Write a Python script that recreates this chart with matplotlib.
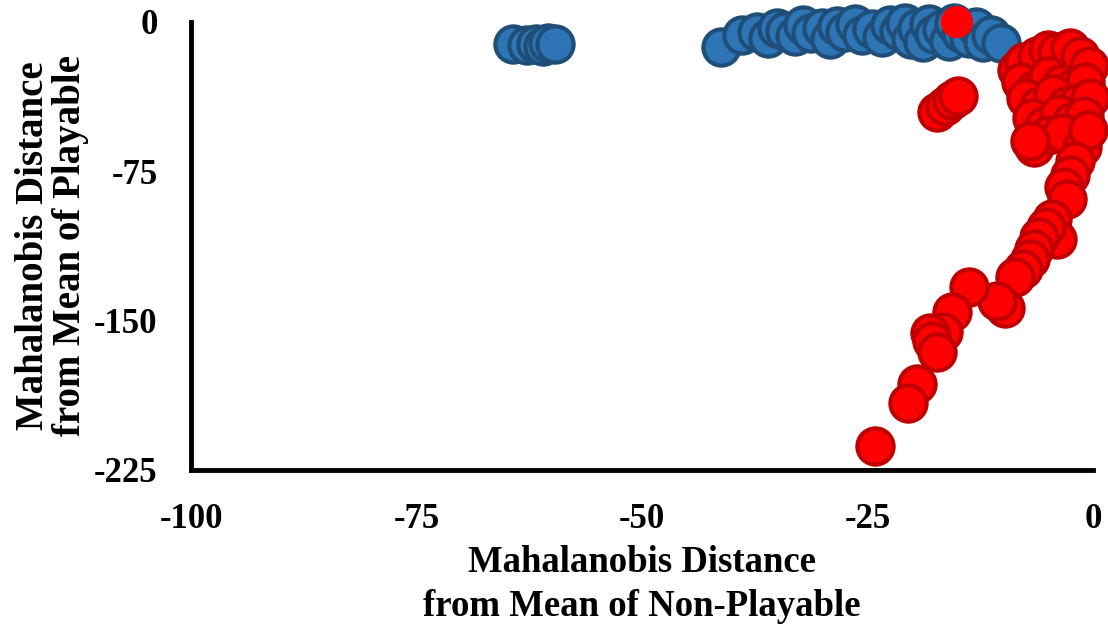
import matplotlib
matplotlib.use("Agg")
import matplotlib.pyplot as plt

# Playable samples: distance from non-playable mean (x) vs. from playable mean (y)
playable_x = [-64.3, -62.8, -61.8, -61.0, -60.4, -59.6,
              -41.2, -38.9, -37.3, -36.0, -35.0, -34.2, -33.0, -32.2, -31.3,
              -30.0, -29.2, -28.4, -27.5, -26.4, -25.6, -24.5, -23.4, -22.5,
              -21.5, -20.8, -20.2, -19.5, -18.9, -18.2, -17.6, -16.8, -16.0,
              -15.4, -14.6, -13.8, -13.0, -12.2, -11.3, -10.2]
playable_y = [-11.0, -11.8, -11.0, -12.0, -10.5, -11.2,
              -12.8, -6.5, -5.0, -8.0, -3.0, -4.5, -7.0, -1.5, -5.5,
              -3.0, -8.5, -2.0, -5.0, -1.0, -6.5, -3.5, -7.5, -1.5,
              -4.5, -0.5, -8.5, -3.0, -10.0, -1.0, -6.0, -3.5, -9.5,
              -0.5, -5.5, -8.0, -2.5, -10.0, -6.5, -10.5]

# Non-playable samples
nonplay_x = [-8.4, -7.6, -6.2, -5.0, -4.0, -2.6, -1.4, -0.4,
             -8.0, -6.6, -5.0, -3.6, -2.2, -0.9,
             -7.4, -6.0, -4.4, -3.0, -1.6, -0.3,
             -6.8, -5.4, -3.8, -2.4, -1.0,
             -6.6, -5.0, -3.4, -1.2, -0.6,
             -7.0, -2.0, -2.5, -3.2, -2.9,
             -17.3, -16.4, -15.6, -15.0,
             -4.5, -4.0, -5.2, -6.0, -6.6, -7.0, -7.8, -8.6, -9.8, -10.6,
             -13.8, -15.6, -16.6, -18.1, -17.8, -17.3, -19.5, -20.5, -24.2]
nonplay_y = [-24.0, -20.0, -17.0, -14.0, -15.0, -13.0, -17.0, -22.0,
             -30.0, -34.0, -27.0, -31.0, -33.0, -30.0,
             -38.0, -42.0, -36.0, -42.0, -40.0, -38.0,
             -48.0, -52.0, -46.0, -50.0, -47.0,
             -62.6, -57.0, -56.0, -62.6, -54.0,
             -60.0, -70.0, -76.8, -83.0, -89.0,
             -45.0, -42.0, -39.0, -37.0,
             -99.0, -109.0, -103.0, -108.0, -114.0, -119.0, -124.0, -128.0, -143.5, -140.0,
             -133.0, -145.5, -155.5, -156.0, -160.0, -165.6, -182.0, -191.2, -213.2]

# Highlighted non-playable sample
highlight_x = [-15.1]
highlight_y = [0.0]

x_ticks = [-100, -75, -50, -25, 0]
y_ticks = [-225, -150, -75, 0]

font = "Liberation Serif"

fig = plt.figure(figsize=(11.08, 6.28), dpi=100)
ax = fig.add_axes([0.1724, 0.2516, 0.8141, 0.7134])

ax.scatter(playable_x, playable_y, s=680, c="#2E75B6", edgecolors="#1F4E79",
           linewidths=3.0, clip_on=False, zorder=3)
ax.scatter(nonplay_x, nonplay_y, s=680, c="#FF0000", edgecolors="#C00000",
           linewidths=3.0, clip_on=False, zorder=4)
ax.scatter(highlight_x, highlight_y, s=540, c="#FF0000", edgecolors="none",
           clip_on=False, zorder=5)

ax.set_xlim(-100, 0)
ax.set_ylim(-225, 0)
ax.set_xticks(x_ticks)
ax.set_yticks(y_ticks)
ax.set_xticklabels([str(v) for v in x_ticks])
ax.set_yticklabels([str(v) for v in y_ticks])

for side in ("top", "right"):
    ax.spines[side].set_visible(False)
for side in ("left", "bottom"):
    ax.spines[side].set_linewidth(3.5)
    ax.spines[side].set_color("black")

ax.tick_params(axis="both", length=0, labelsize=25)
ax.tick_params(axis="x", pad=24)
ax.tick_params(axis="y", pad=24)
for lbl in ax.get_xticklabels() + ax.get_yticklabels():
    lbl.set_fontfamily(font)
    lbl.set_fontweight("bold")

ax.set_xlabel("Mahalanobis Distance\nfrom Mean of Non-Playable", fontsize=26.5,
              fontfamily=font, fontweight="bold", labelpad=6, linespacing=1.35)
ax.set_ylabel("Mahalanobis Distance\nfrom Mean of Playable", fontsize=28,
              fontfamily=font, fontweight="bold", labelpad=4, linespacing=1.0)

fig.savefig("out.png", dpi=100)
